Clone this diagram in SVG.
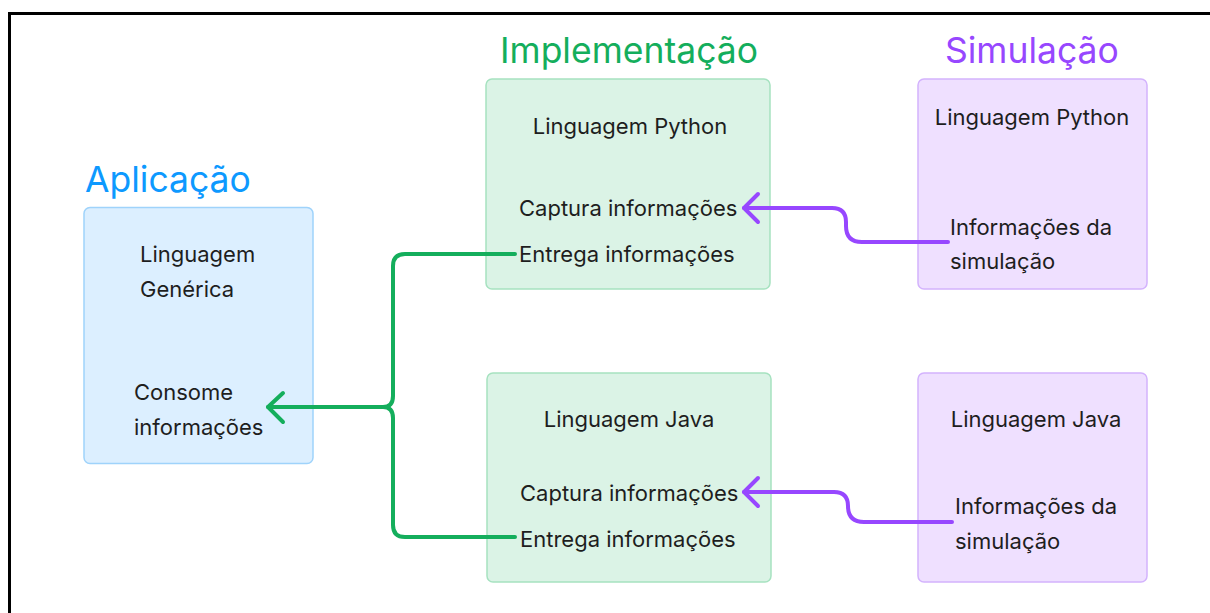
<svg xmlns="http://www.w3.org/2000/svg" width="1210" height="613" viewBox="0 0 1210 613">
<style>
.t{font-family:Inter,"Noto Sans","Liberation Sans",sans-serif;font-size:22px;fill:#1e1e1e}
.h{font-family:Inter,"Noto Sans","Liberation Sans",sans-serif;font-size:35.5px}
.g{fill:#dbf3e6;stroke:#a6e2c0;stroke-width:1.5}
.p{fill:#efe0ff;stroke:#d3b3fd;stroke-width:1.5}
.b{fill:#dcefff;stroke:#9fd3fb;stroke-width:1.5}
.cg{fill:none;stroke:#14ae5c;stroke-width:4;stroke-linecap:round;stroke-linejoin:round}
.cp{fill:none;stroke:#9747ff;stroke-width:4;stroke-linecap:round;stroke-linejoin:round}
</style>
<rect x="0" y="0" width="1210" height="613" fill="#fff"/>
<path d="M9.5 613 V13.5 H1210" fill="none" stroke="#000" stroke-width="3"/>
<text class="h" x="85" y="192" fill="#0d99ff">Aplicação</text>
<text class="h" x="500" y="63" fill="#14ae5c">Implementação</text>
<text class="h" x="945" y="63" fill="#9747ff">Simulação</text>
<g id="aplicacao">
<rect class="b" x="84" y="207.5" width="229" height="256" rx="6"/>
<text class="t" x="140" y="262">Linguagem</text>
<text class="t" x="140" y="297">Genérica</text>
<text class="t" x="134" y="400">Consome</text>
<text class="t" x="134" y="435">informações</text>
</g>
<g id="impl-python">
<rect class="g" x="486" y="79" width="284" height="210" rx="6"/>
<text class="t" x="630" y="134" text-anchor="middle">Linguagem Python</text>
<text class="t" x="519" y="216">Captura informações</text>
<text class="t" x="519" y="262">Entrega informações</text>
</g>
<g id="impl-java">
<rect class="g" x="487" y="373" width="284" height="209" rx="6"/>
<text class="t" x="629" y="427" text-anchor="middle">Linguagem Java</text>
<text class="t" x="520" y="501">Captura informações</text>
<text class="t" x="520" y="547">Entrega informações</text>
</g>
<g id="sim-python">
<rect class="p" x="918" y="79" width="229" height="210" rx="6"/>
<text class="t" x="1032" y="125" text-anchor="middle">Linguagem Python</text>
<text class="t" x="950" y="235">Informações da</text>
<text class="t" x="950" y="269">simulação</text>
</g>
<g id="sim-java">
<rect class="p" x="918" y="373" width="229" height="209" rx="6"/>
<text class="t" x="1036" y="427" text-anchor="middle">Linguagem Java</text>
<text class="t" x="955" y="514">Informações da</text>
<text class="t" x="955" y="549">simulação</text>
</g>
<g id="connectors">
<path class="cg" d="M515 254 H405 Q393 254 393 266 V396 Q393 407 383 407 H268"/>
<path class="cg" d="M515 537 H405 Q393 537 393 525 V418 Q393 407 383 407"/>
<path class="cg" d="M283 393 L268 407 L283 422"/>
<path class="cp" d="M948 242 H862 Q846 242 846 226 V222 Q846 208 832 208 H744"/>
<path class="cp" d="M758 194 L744 208 L758 222"/>
<path class="cp" d="M952 522 H864 Q848 522 848 506 V506 Q848 492 834 492 H744"/>
<path class="cp" d="M758 478 L744 492 L758 506"/>
</g>
</svg>
